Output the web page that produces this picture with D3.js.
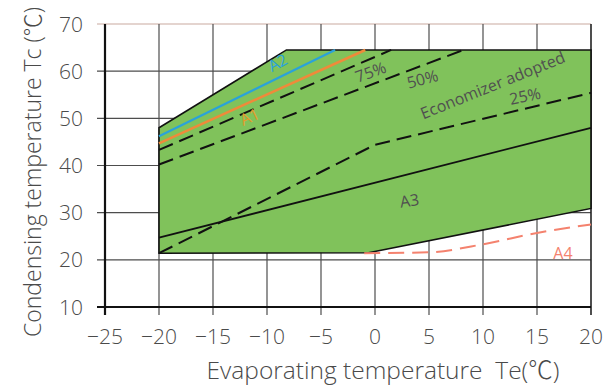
<!DOCTYPE html>
<html lang="en">
<head>
<meta charset="utf-8">
<title>Operating range</title>
<style>
  body { margin: 0; background: #fff; }
  svg text { font-family: "Open Sans", "Liberation Sans", sans-serif; font-weight: 300; fill: #4a4a4a; }
  svg tspan.deg { font-family: "Noto Sans CJK SC", "Open Sans", sans-serif; font-weight: 300; }
  .tick-label { font-size: 21px; }
  .title { font-size: 23px; }
  .xtitle { font-size: 24.5px; }
  .note { font-size: 16px; font-weight: 400; }
</style>
</head>
<body>
<svg id="chart" width="603" height="388"></svg>
<script src="https://d3js.org/d3.v7.min.js"></script>
<script>
// ---- data ----
var xTicks = [-25, -20, -15, -10, -5, 0, 5, 10, 15, 20];
var yTicks = [10, 20, 30, 40, 50, 60, 70];

// operating envelope (Te, Tc)
var envelope = [[-20, 21.4], [-20, 48], [-8.2, 64.5], [20, 64.5], [20, 30.9], [-0.6, 21.5]];
var lineA2 = [[-20, 46.2], [-3.7, 64.5]];
var lineA1 = [[-20, 44.7], [-0.9, 64.5]];
var line75 = [[-20, 43.3], [1.5, 64.5]];
var line50 = [[-20, 40.2], [8.2, 64.5]];
var line25 = [[-20, 21.4], [0, 44.4], [20, 55.4]];
var lineA3 = [[-20, 24.7], [20, 48.0]];
var lineA4 = [[-1, 21.4], [5, 21.6], [10, 23.3], [15, 25.7], [20, 27.5]];

var labels = [
  { text: "A2", x: -9.0, y: 61.8, rot: -28, color: "#2aa2da" },
  { text: "A1", x: -11.6, y: 50.3, rot: -25, color: "#e39a2a" },
  { text: "75%", x: -0.4, y: 59.8, rot: -20, color: "#505050" },
  { text: "50%", x: 4.4, y: 58.3, rot: -15, color: "#505050" },
  { text: "Economizer adopted", x: 10.9, y: 57.0, rot: -22, color: "#505050" },
  { text: "25%", x: 13.9, y: 54.7, rot: -12, color: "#505050" },
  { text: "A3", x: 3.2, y: 32.5, rot: -8, color: "#505050" },
  { text: "A4", x: 17.4, y: 21.4, rot: 0, color: "#f4826e" }
];

var svg = d3.select("#chart");
var x = d3.scaleLinear().domain([-25, 20]).range([105, 591]);
var y = d3.scaleLinear().domain([10, 70]).range([307, 24]);

var line = d3.line().x(function(d) { return x(d[0]); }).y(function(d) { return y(d[1]); });

// grid
svg.append("g").selectAll("line")
    .data(yTicks.filter(function(v) { return v > 10; }))
    .enter().append("line")
    .attr("x1", x(-25) - 8).attr("x2", x(20))
    .attr("y1", function(d) { return y(d); }).attr("y2", function(d) { return y(d); })
    .attr("stroke", function(d) { return d === 70 ? "#c9a9a0" : "#4d4d4d"; })
    .attr("stroke-width", 1.2);

svg.append("g").selectAll("line")
    .data(xTicks.filter(function(v) { return v > -25; }))
    .enter().append("line")
    .attr("x1", function(d) { return x(d); }).attr("x2", function(d) { return x(d); })
    .attr("y1", y(70)).attr("y2", y(10) + 8)
    .attr("stroke", function(d) { return d === 20 ? "#222" : "#4d4d4d"; })
    .attr("stroke-width", function(d) { return d === 20 ? 1.6 : 1.2; });

// envelope
svg.append("path")
    .attr("d", line(envelope) + "Z")
    .attr("fill", "#80c25b")
    .attr("stroke", "#111")
    .attr("stroke-width", 1.6);

svg.append("path").attr("d", line(lineA2)).attr("fill", "none")
    .attr("stroke", "#2aa2da").attr("stroke-width", 2.2);
svg.append("path").attr("d", line(lineA1)).attr("fill", "none")
    .attr("stroke", "#ef8a3a").attr("stroke-width", 2.6);

[line75, line50, line25].forEach(function(l) {
  svg.append("path").attr("d", line(l)).attr("fill", "none")
      .attr("stroke", "#111").attr("stroke-width", 2)
      .attr("stroke-dasharray", "15,7");
});

svg.append("path").attr("d", line(lineA3)).attr("fill", "none")
    .attr("stroke", "#111").attr("stroke-width", 1.8);

svg.append("path").attr("d", line.curve(d3.curveMonotoneX)(lineA4)).attr("fill", "none")
    .attr("stroke", "#f4826e").attr("stroke-width", 2)
    .attr("stroke-dasharray", "16,8");
line.curve(d3.curveLinear);

// axes
svg.append("line").attr("x1", x(-25)).attr("x2", x(-25))
    .attr("y1", y(70)).attr("y2", y(10) + 8)
    .attr("stroke", "#111").attr("stroke-width", 2.2);
svg.append("line").attr("x1", x(-25) - 8).attr("x2", x(20))
    .attr("y1", y(10)).attr("y2", y(10))
    .attr("stroke", "#111").attr("stroke-width", 2.2);

// tick labels
svg.append("g").selectAll("text").data(yTicks).enter().append("text")
    .attr("class", "tick-label")
    .attr("x", x(-25) - 22).attr("y", function(d) { return y(d); })
    .attr("dy", "0.36em").attr("text-anchor", "end")
    .text(function(d) { return d; });

svg.append("g").selectAll("text").data(xTicks).enter().append("text")
    .attr("class", "tick-label")
    .attr("x", function(d) { return x(d); }).attr("y", 344)
    .attr("text-anchor", "middle")
    .text(function(d) { return d < 0 ? "\u2212" + Math.abs(d) : d; });

// titles
var yTitle = svg.append("text").attr("class", "title")
    .attr("transform", "translate(41,172) rotate(-90)")
    .attr("text-anchor", "middle");
yTitle.append("tspan").text("Condensing temperature Tc (");
yTitle.append("tspan").attr("class", "deg").text("\u2103");
yTitle.append("tspan").text(")");

var xTitle = svg.append("text").attr("class", "xtitle")
    .attr("x", 383).attr("y", 379).attr("text-anchor", "middle")
    .attr("xml:space", "preserve");
xTitle.append("tspan").text("Evaporating temperature  Te(");
xTitle.append("tspan").attr("class", "deg").text("\u2103");
xTitle.append("tspan").text(")");

// region labels
svg.append("g").selectAll("text").data(labels).enter().append("text")
    .attr("class", "note")
    .attr("text-anchor", "middle").attr("dy", "0.35em")
    .attr("transform", function(d) { return "translate(" + x(d.x) + "," + y(d.y) + ") rotate(" + d.rot + ")"; })
    .style("fill", function(d) { return d.color; })
    .text(function(d) { return d.text; });
</script>
</body>
</html>
